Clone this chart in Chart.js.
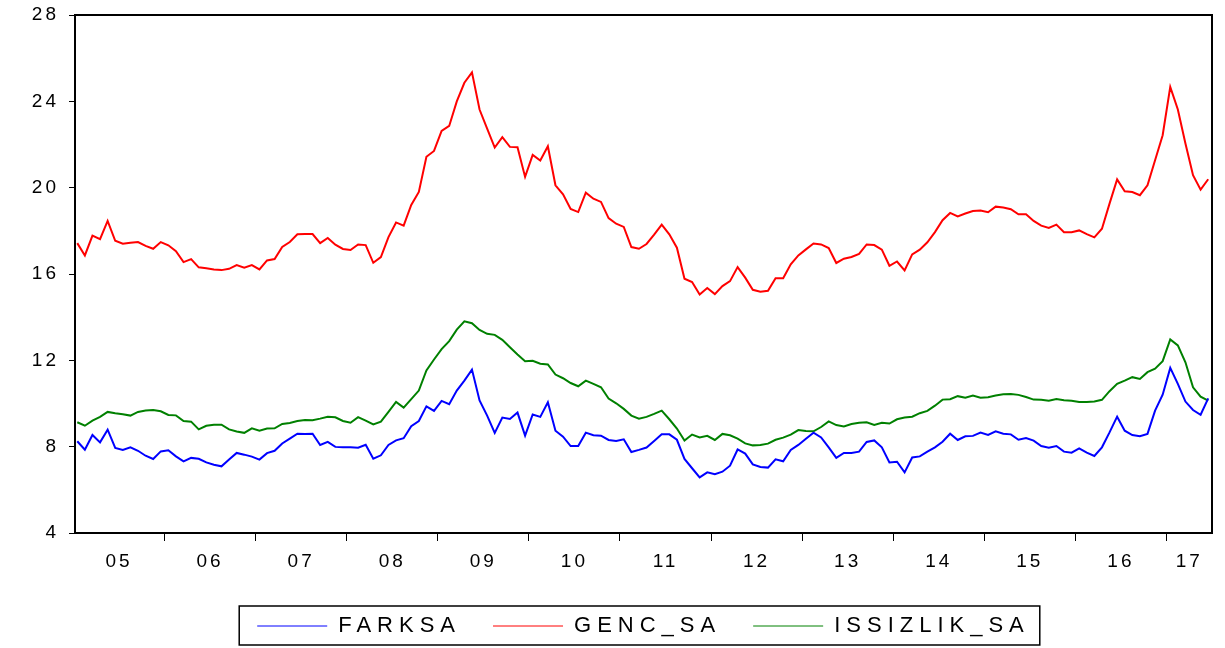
<!DOCTYPE html>
<html>
<head>
<meta charset="utf-8">
<script src="https://cdn.jsdelivr.net/npm/chart.js@4/dist/chart.umd.min.js"></script>
<style>
  html, body { margin: 0; padding: 0; background: #fff; }
</style>
</head>
<body>
<canvas id="myChart1" width="1225" height="648"></canvas>
<script>
const ctx = document.getElementById('myChart1').getContext('2d');

// monthly, 2005M01 .. 2017M06
const yearLabels = ['05', '06', '07', '08', '09', '10', '11', '12', '13', '14', '15', '16', '17'];
const yTicks = [4, 8, 12, 16, 20, 24, 28];

const farksa = [
  8.25, 7.86, 8.54, 8.20, 8.79, 7.94, 7.85, 7.97, 7.81, 7.58, 7.43, 7.78, 7.83, 7.55, 7.32, 7.48, 7.44, 7.27, 7.16, 7.09, 7.40, 7.71, 7.63, 7.54, 7.40, 7.70,
  7.81, 8.15, 8.37, 8.60, 8.59, 8.60, 8.08, 8.22, 7.99, 7.97, 7.97, 7.95, 8.09, 7.44, 7.60, 8.08, 8.29, 8.39, 8.95, 9.19, 9.87, 9.66, 10.12, 9.97, 10.60,
  11.06, 11.57, 10.14, 9.44, 8.64, 9.35, 9.28, 9.58, 8.51, 9.49, 9.38, 10.06, 8.74, 8.46, 8.03, 8.03, 8.65, 8.53, 8.51, 8.31, 8.26, 8.34, 7.75, 7.85, 7.96,
  8.26, 8.57, 8.57, 8.32, 7.43, 7.00, 6.58, 6.81, 6.72, 6.84, 7.12, 7.87, 7.68, 7.18, 7.06, 7.03, 7.41, 7.32, 7.85, 8.08, 8.37, 8.65, 8.43, 7.97, 7.48,
  7.71, 7.71, 7.77, 8.22, 8.29, 7.97, 7.27, 7.30, 6.81, 7.50, 7.55, 7.77, 7.97, 8.23, 8.60, 8.31, 8.48, 8.50, 8.65, 8.54, 8.71, 8.60, 8.57, 8.32, 8.40,
  8.28, 8.03, 7.95, 8.03, 7.77, 7.72, 7.92, 7.72, 7.57, 7.97, 8.66, 9.39, 8.74, 8.54, 8.48, 8.59, 9.67, 10.41, 11.65, 10.91, 10.09, 9.70, 9.48, 10.24
];

const gencSa = [
  17.43, 16.86, 17.78, 17.61, 18.46, 17.54, 17.40, 17.45, 17.48, 17.30, 17.17, 17.48, 17.33, 17.06, 16.55, 16.69, 16.31, 16.27, 16.21, 16.18, 16.24, 16.41, 16.29, 16.41, 16.21, 16.63,
  16.69, 17.25, 17.48, 17.84, 17.85, 17.85, 17.43, 17.67, 17.36, 17.16, 17.11, 17.37, 17.34, 16.52, 16.78, 17.71, 18.39, 18.24, 19.20, 19.80, 21.43, 21.70, 22.63, 22.86, 24.00, 24.86, 25.34,
  23.62, 22.74, 21.86, 22.34, 21.89, 21.87, 20.50, 21.52, 21.26, 21.92, 20.11, 19.69, 19.01, 18.87, 19.77, 19.49, 19.34, 18.59, 18.33, 18.18, 17.25, 17.17, 17.39,
  17.82, 18.29, 17.84, 17.22, 15.78, 15.63, 15.05, 15.35, 15.07, 15.44, 15.67, 16.32, 15.83, 15.27, 15.18, 15.22, 15.80, 15.80, 16.45, 16.86, 17.14, 17.41, 17.37, 17.20, 16.51,
  16.71, 16.79, 16.93, 17.37, 17.34, 17.13, 16.38, 16.58, 16.17, 16.91, 17.13, 17.47, 17.94, 18.49, 18.83, 18.67, 18.80, 18.92, 18.94, 18.86, 19.12, 19.08, 19.00, 18.77, 18.77,
  18.46, 18.24, 18.13, 18.29, 17.94, 17.94, 18.02, 17.85, 17.70, 18.10, 19.26, 20.38, 19.83, 19.80, 19.65, 20.11, 21.27, 22.43, 24.67, 23.62, 22.05, 20.58, 19.91, 20.39
];

const issizlikSa = [
  9.13, 8.97, 9.21, 9.38, 9.61, 9.55, 9.50, 9.44, 9.61, 9.68, 9.70, 9.64, 9.47, 9.45, 9.19, 9.16, 8.80, 8.97, 9.02, 9.02, 8.80, 8.70, 8.64, 8.85, 8.74, 8.84,
  8.85, 9.05, 9.10, 9.19, 9.24, 9.22, 9.30, 9.39, 9.36, 9.19, 9.11, 9.37, 9.21, 9.03, 9.16, 9.61, 10.07, 9.81, 10.20, 10.60, 11.53, 12.04, 12.52, 12.89, 13.42,
  13.81, 13.72, 13.41, 13.23, 13.18, 12.95, 12.61, 12.27, 11.96, 11.98, 11.84, 11.81, 11.34, 11.17, 10.95, 10.80, 11.06, 10.91, 10.75, 10.23, 10.01, 9.75, 9.44, 9.30, 9.38,
  9.52, 9.67, 9.27, 8.84, 8.28, 8.56, 8.43, 8.50, 8.31, 8.59, 8.53, 8.37, 8.15, 8.06, 8.08, 8.14, 8.32, 8.42, 8.56, 8.77, 8.73, 8.71, 8.91, 9.17, 9.00,
  8.94, 9.05, 9.11, 9.13, 9.01, 9.11, 9.07, 9.27, 9.35, 9.39, 9.55, 9.66, 9.90, 10.18, 10.20, 10.34, 10.27, 10.37, 10.27, 10.29, 10.37, 10.43, 10.44, 10.40, 10.30,
  10.18, 10.17, 10.13, 10.21, 10.15, 10.13, 10.07, 10.07, 10.09, 10.17, 10.57, 10.91, 11.06, 11.22, 11.14, 11.45, 11.61, 11.96, 12.97, 12.69, 11.91, 10.75, 10.32, 10.13
];

const FONT = "'Liberation Sans', Arial, sans-serif";
const AXIS_SPACING = '3px';
const LEGEND_SPACING = '6px';
const lastIndex = farksa.length - 1;
const X_MIN = -0.3, X_MAX = lastIndex + 0.5;

// year boundaries get tick marks, year middles get the labels
const boundaries = [];
for (let k = 1; k < yearLabels.length; k++) boundaries.push(k * 12 - 0.5);
const labelPos = yearLabels.map((_, k) => {
  const start = k * 12 - 0.5;
  const end = Math.min(k * 12 + 11.5, lastIndex + 0.5);
  return (start + end) / 2;
});

const toPoints = arr => arr.map((v, i) => ({x: i, y: v}));

// wider text, like the EViews output
const spacing = {
  id: 'spacing',
  afterInit(chart) {
    const lg = chart.legend;
    const fit = lg.fit.bind(lg);
    const draw = lg.draw.bind(lg);
    lg.fit = function () {
      chart.ctx.letterSpacing = LEGEND_SPACING;
      fit();
      chart.ctx.letterSpacing = AXIS_SPACING;
    };
    lg.draw = function () {
      chart.ctx.letterSpacing = LEGEND_SPACING;
      draw();
      chart.ctx.letterSpacing = AXIS_SPACING;
    };
  },
  beforeLayout(chart) { chart.ctx.letterSpacing = AXIS_SPACING; },
  beforeDraw(chart) { chart.ctx.letterSpacing = AXIS_SPACING; },
};

// box round the legend
const legendBox = {
  id: 'legendBox',
  afterDraw(chart) {
    const boxes = chart.legend.legendHitBoxes;
    if (!boxes || !boxes.length) return;
    const c = chart.ctx;
    const last = boxes[boxes.length - 1];
    const l = boxes[0].left - 18;
    const r = last.left + last.width + 10;
    const t = boxes[0].top - 9;
    const b = boxes[0].top + boxes[0].height + 8;
    c.save();
    c.strokeStyle = '#000';
    c.lineWidth = 1.5;
    c.beginPath();
    c.rect(l, t, r - l, b - t);
    c.stroke();
    c.restore();
  }
};

const data = {
  datasets: [
    { label: 'FARKSA', data: toPoints(farksa), borderColor: '#0000ff', backgroundColor: '#0000ff', xAxisID: 'x', yAxisID: 'y' },
    { label: 'GENC_SA', data: toPoints(gencSa), borderColor: '#ff0000', backgroundColor: '#ff0000', xAxisID: 'x', yAxisID: 'y' },
    { label: 'ISSIZLIK_SA', data: toPoints(issizlikSa), borderColor: '#008000', backgroundColor: '#008000', xAxisID: 'x', yAxisID: 'y' },
  ],
};

const config = {
  type: 'line',
  data: data,
  options: {
    responsive: false,
    animation: false,
    layout: { padding: { left: 0, top: 15, right: 13, bottom: 1 } },
    elements: {
      point: { radius: 0 },
      line: { borderWidth: 2, tension: 0 },
    },
    scales: {
      x: {
        type: 'linear',
        min: X_MIN,
        max: X_MAX,
        afterBuildTicks: scale => {
          scale.ticks = boundaries.concat(labelPos).sort((a, b) => a - b).map(v => ({value: v}));
        },
        ticks: {
          autoSkip: false,
          maxRotation: 0,
          padding: 9,
          color: '#000',
          font: { family: FONT, size: 19 },
          callback: value => {
            const k = labelPos.indexOf(value);
            return k >= 0 ? yearLabels[k] : '';
          },
        },
        grid: {
          drawOnChartArea: false,
          tickLength: 8,
          tickWidth: 1,
          tickColor: c => (c.tick && boundaries.includes(c.tick.value)) ? '#000' : 'rgba(0,0,0,0)',
        },
        border: { color: '#000', width: 2 },
        afterFit: scale => { scale.height = 50; scale.paddingLeft = 0; scale.paddingRight = 0; },
      },
      xTop: {
        type: 'linear',
        position: 'top',
        min: X_MIN,
        max: X_MAX,
        grid: { display: false },
        ticks: { display: false },
        border: { color: '#000', width: 2 },
        afterFit: scale => { scale.height = 0; scale.paddingLeft = 0; scale.paddingRight = 0; },
      },
      y: {
        min: 4,
        max: 28,
        afterBuildTicks: scale => { scale.ticks = yTicks.map(v => ({value: v})); },
        ticks: {
          padding: 10,
          color: '#000',
          font: { family: FONT, size: 19 },
        },
        grid: { drawOnChartArea: false, tickLength: 6, color: '#000' },
        border: { color: '#000', width: 2 },
        afterFit: scale => { scale.width = 75; scale.paddingTop = 0; scale.paddingBottom = 0; },
      },
      yRight: {
        position: 'right',
        min: 4,
        max: 28,
        grid: { display: false },
        ticks: { display: false },
        border: { color: '#000', width: 2 },
        afterFit: scale => { scale.width = 0; scale.paddingTop = 0; scale.paddingBottom = 0; },
      },
    },
    plugins: {
      tooltip: { enabled: false },
      legend: {
        position: 'bottom',
        fullSize: false,
        labels: {
          usePointStyle: true,
          pointStyle: 'line',
          pointStyleWidth: 70,
          padding: 32,
          color: '#000',
          font: { family: FONT, size: 22 },
        },
      },
    },
  },
  plugins: [spacing, legendBox],
};

const myChart = new Chart(ctx, config);
</script>
</body>
</html>
